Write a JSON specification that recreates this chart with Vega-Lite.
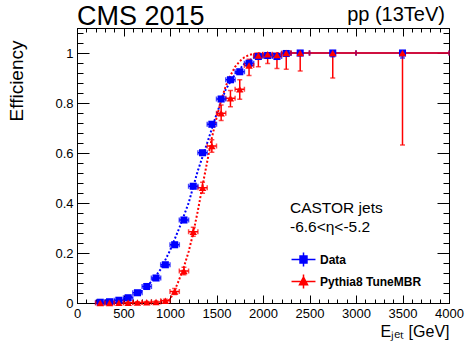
{
  "$schema": "https://vega.github.io/schema/vega-lite/v6.json",
  "width": 372,
  "height": 275,
  "autosize": {"type": "none"},
  "padding": {"left": 77, "top": 28, "right": 24, "bottom": 41},
  "background": "white",
  "config": {
    "font": "Liberation Sans",
    "view": {"stroke": "black", "strokeWidth": 1},
    "axis": {"grid": false, "domain": false, "labelFont": "Liberation Sans", "titleFont": "Liberation Sans", "tickColor": "black", "labelColor": "black", "titleColor": "black", "titleFontWeight": "normal", "tickWidth": 1},
    "legend": {"orient": "none", "legendX": 215, "legendY": 220, "title": null, "symbolSize": 441, "labelFont": "Liberation Sans", "labelFontSize": 12, "labelFontWeight": "bold", "labelColor": "black", "labelOffset": 5, "rowPadding": 0, "padding": 0, "symbolStrokeWidth": 1.5, "symbolOpacity": 1}
  },
  "datasets": {
    "pts": [
      {"s": "Data", "E": 250, "eff": 0.003, "lo": 0, "hi": 0.008, "Elo": 200, "Ehi": 300},
      {"s": "Data", "E": 350, "eff": 0.005, "lo": 0, "hi": 0.011, "Elo": 300, "Ehi": 400},
      {"s": "Data", "E": 450, "eff": 0.011, "lo": 0.005, "hi": 0.017, "Elo": 400, "Ehi": 500},
      {"s": "Data", "E": 550, "eff": 0.021, "lo": 0.015, "hi": 0.027, "Elo": 500, "Ehi": 600},
      {"s": "Data", "E": 650, "eff": 0.041, "lo": 0.035, "hi": 0.047, "Elo": 600, "Ehi": 700},
      {"s": "Data", "E": 750, "eff": 0.066, "lo": 0.06, "hi": 0.072, "Elo": 700, "Ehi": 800},
      {"s": "Data", "E": 850, "eff": 0.1, "lo": 0.094, "hi": 0.106, "Elo": 800, "Ehi": 900},
      {"s": "Data", "E": 950, "eff": 0.153, "lo": 0.147, "hi": 0.159, "Elo": 900, "Ehi": 1000},
      {"s": "Data", "E": 1050, "eff": 0.233, "lo": 0.226, "hi": 0.24, "Elo": 1000, "Ehi": 1100},
      {"s": "Data", "E": 1150, "eff": 0.332, "lo": 0.325, "hi": 0.339, "Elo": 1100, "Ehi": 1200},
      {"s": "Data", "E": 1250, "eff": 0.467, "lo": 0.46, "hi": 0.474, "Elo": 1200, "Ehi": 1300},
      {"s": "Data", "E": 1350, "eff": 0.601, "lo": 0.594, "hi": 0.608, "Elo": 1300, "Ehi": 1400},
      {"s": "Data", "E": 1450, "eff": 0.715, "lo": 0.708, "hi": 0.722, "Elo": 1400, "Ehi": 1500},
      {"s": "Data", "E": 1550, "eff": 0.816, "lo": 0.81, "hi": 0.822, "Elo": 1500, "Ehi": 1600},
      {"s": "Data", "E": 1650, "eff": 0.893, "lo": 0.887, "hi": 0.899, "Elo": 1600, "Ehi": 1700},
      {"s": "Data", "E": 1750, "eff": 0.925, "lo": 0.919, "hi": 0.931, "Elo": 1700, "Ehi": 1800},
      {"s": "Data", "E": 1850, "eff": 0.959, "lo": 0.953, "hi": 0.965, "Elo": 1800, "Ehi": 1900},
      {"s": "Data", "E": 1950, "eff": 0.986, "lo": 0.98, "hi": 0.991, "Elo": 1900, "Ehi": 2000},
      {"s": "Data", "E": 2050, "eff": 0.99, "lo": 0.984, "hi": 0.995, "Elo": 2000, "Ehi": 2100},
      {"s": "Data", "E": 2150, "eff": 0.986, "lo": 0.979, "hi": 0.992, "Elo": 2100, "Ehi": 2200},
      {"s": "Data", "E": 2250, "eff": 0.998, "lo": 0.99, "hi": 1, "Elo": 2200, "Ehi": 2300},
      {"s": "Data", "E": 2400, "eff": 1, "lo": 0.99, "hi": 1, "Elo": 2300, "Ehi": 2500},
      {"s": "Data", "E": 2750, "eff": 1, "lo": 0.985, "hi": 1, "Elo": 2500, "Ehi": 3000},
      {"s": "Data", "E": 3500, "eff": 1, "lo": 0.98, "hi": 1, "Elo": 3000, "Ehi": 4000},
      {"s": "Pythia8 TuneMBR", "E": 250, "eff": 0, "lo": 0, "hi": 0.003, "Elo": 200, "Ehi": 300},
      {"s": "Pythia8 TuneMBR", "E": 350, "eff": 0, "lo": 0, "hi": 0.003, "Elo": 300, "Ehi": 400},
      {"s": "Pythia8 TuneMBR", "E": 450, "eff": 0.001, "lo": 0, "hi": 0.004, "Elo": 400, "Ehi": 500},
      {"s": "Pythia8 TuneMBR", "E": 550, "eff": 0.001, "lo": 0, "hi": 0.004, "Elo": 500, "Ehi": 600},
      {"s": "Pythia8 TuneMBR", "E": 650, "eff": 0.002, "lo": 0, "hi": 0.005, "Elo": 600, "Ehi": 700},
      {"s": "Pythia8 TuneMBR", "E": 750, "eff": 0.003, "lo": 0, "hi": 0.006, "Elo": 700, "Ehi": 800},
      {"s": "Pythia8 TuneMBR", "E": 850, "eff": 0.004, "lo": 0.001, "hi": 0.008, "Elo": 800, "Ehi": 900},
      {"s": "Pythia8 TuneMBR", "E": 950, "eff": 0.009, "lo": 0.004, "hi": 0.015, "Elo": 900, "Ehi": 1000},
      {"s": "Pythia8 TuneMBR", "E": 1050, "eff": 0.046, "lo": 0.034, "hi": 0.058, "Elo": 1000, "Ehi": 1100},
      {"s": "Pythia8 TuneMBR", "E": 1150, "eff": 0.128, "lo": 0.113, "hi": 0.143, "Elo": 1100, "Ehi": 1200},
      {"s": "Pythia8 TuneMBR", "E": 1250, "eff": 0.285, "lo": 0.267, "hi": 0.303, "Elo": 1200, "Ehi": 1300},
      {"s": "Pythia8 TuneMBR", "E": 1350, "eff": 0.461, "lo": 0.439, "hi": 0.483, "Elo": 1300, "Ehi": 1400},
      {"s": "Pythia8 TuneMBR", "E": 1450, "eff": 0.628, "lo": 0.603, "hi": 0.653, "Elo": 1400, "Ehi": 1500},
      {"s": "Pythia8 TuneMBR", "E": 1550, "eff": 0.759, "lo": 0.73, "hi": 0.792, "Elo": 1500, "Ehi": 1600},
      {"s": "Pythia8 TuneMBR", "E": 1650, "eff": 0.819, "lo": 0.785, "hi": 0.85, "Elo": 1600, "Ehi": 1700},
      {"s": "Pythia8 TuneMBR", "E": 1750, "eff": 0.855, "lo": 0.815, "hi": 0.893, "Elo": 1700, "Ehi": 1800},
      {"s": "Pythia8 TuneMBR", "E": 1850, "eff": 0.95, "lo": 0.91, "hi": 0.975, "Elo": 1800, "Ehi": 1900},
      {"s": "Pythia8 TuneMBR", "E": 1950, "eff": 0.99, "lo": 0.945, "hi": 1, "Elo": 1900, "Ehi": 2000},
      {"s": "Pythia8 TuneMBR", "E": 2050, "eff": 0.995, "lo": 0.958, "hi": 1, "Elo": 2000, "Ehi": 2100},
      {"s": "Pythia8 TuneMBR", "E": 2150, "eff": 0.992, "lo": 0.938, "hi": 1, "Elo": 2100, "Ehi": 2200},
      {"s": "Pythia8 TuneMBR", "E": 2250, "eff": 1, "lo": 0.935, "hi": 1, "Elo": 2200, "Ehi": 2300},
      {"s": "Pythia8 TuneMBR", "E": 2400, "eff": 1, "lo": 0.928, "hi": 1, "Elo": 2300, "Ehi": 2500},
      {"s": "Pythia8 TuneMBR", "E": 2750, "eff": 1, "lo": 0.9, "hi": 1, "Elo": 2500, "Ehi": 3000},
      {"s": "Pythia8 TuneMBR", "E": 3500, "eff": 1, "lo": 0.632, "hi": 1, "Elo": 3000, "Ehi": 4000}
    ],
    "fit": [
      {"s": "Data", "E": 450, "eff": 0.007},
      {"s": "Data", "E": 500, "eff": 0.012},
      {"s": "Data", "E": 600, "eff": 0.028},
      {"s": "Data", "E": 700, "eff": 0.05},
      {"s": "Data", "E": 800, "eff": 0.085},
      {"s": "Data", "E": 900, "eff": 0.135},
      {"s": "Data", "E": 1000, "eff": 0.21},
      {"s": "Data", "E": 1100, "eff": 0.3},
      {"s": "Data", "E": 1200, "eff": 0.4},
      {"s": "Data", "E": 1300, "eff": 0.53},
      {"s": "Data", "E": 1400, "eff": 0.64},
      {"s": "Data", "E": 1500, "eff": 0.755},
      {"s": "Data", "E": 1600, "eff": 0.855},
      {"s": "Data", "E": 1700, "eff": 0.915},
      {"s": "Data", "E": 1800, "eff": 0.957},
      {"s": "Data", "E": 1900, "eff": 0.981},
      {"s": "Data", "E": 2000, "eff": 0.993},
      {"s": "Data", "E": 2100, "eff": 0.998},
      {"s": "Data", "E": 2200, "eff": 1},
      {"s": "Pythia8 TuneMBR", "E": 950, "eff": 0.0},
      {"s": "Pythia8 TuneMBR", "E": 1000, "eff": 0.015},
      {"s": "Pythia8 TuneMBR", "E": 1050, "eff": 0.05},
      {"s": "Pythia8 TuneMBR", "E": 1100, "eff": 0.095},
      {"s": "Pythia8 TuneMBR", "E": 1150, "eff": 0.145},
      {"s": "Pythia8 TuneMBR", "E": 1200, "eff": 0.205},
      {"s": "Pythia8 TuneMBR", "E": 1250, "eff": 0.28},
      {"s": "Pythia8 TuneMBR", "E": 1300, "eff": 0.37},
      {"s": "Pythia8 TuneMBR", "E": 1350, "eff": 0.47},
      {"s": "Pythia8 TuneMBR", "E": 1400, "eff": 0.565},
      {"s": "Pythia8 TuneMBR", "E": 1450, "eff": 0.66},
      {"s": "Pythia8 TuneMBR", "E": 1500, "eff": 0.74},
      {"s": "Pythia8 TuneMBR", "E": 1550, "eff": 0.81},
      {"s": "Pythia8 TuneMBR", "E": 1600, "eff": 0.868},
      {"s": "Pythia8 TuneMBR", "E": 1650, "eff": 0.91},
      {"s": "Pythia8 TuneMBR", "E": 1700, "eff": 0.945},
      {"s": "Pythia8 TuneMBR", "E": 1750, "eff": 0.967},
      {"s": "Pythia8 TuneMBR", "E": 1800, "eff": 0.983},
      {"s": "Pythia8 TuneMBR", "E": 1850, "eff": 0.992},
      {"s": "Pythia8 TuneMBR", "E": 1900, "eff": 0.997},
      {"s": "Pythia8 TuneMBR", "E": 2000, "eff": 1}
    ]
  },
  "resolve": {"axis": {"x": "independent", "y": "independent"}},
  "layer": [
    {
      "data": {"name": "fit"},
      "mark": {"type": "line", "strokeDash": [2, 2], "strokeWidth": 2},
      "encoding": {
        "x": {"field": "E", "type": "quantitative", "scale": {"domain": [0, 4000], "nice": false, "zero": false},
          "axis": {"orient": "bottom", "values": [0, 500, 1000, 1500, 2000, 2500, 3000, 3500, 4000], "format": "d", "ticks": false, "domain": true, "domainColor": "black", "labelFontSize": 13, "labelPadding": 4, "labelFlush": false, "labelOverlap": false, "title": "Eⱼₑₜ  [GeV]", "titleFontSize": 16, "titleAnchor": "end", "titlePadding": 3}},
        "y": {"field": "eff", "type": "quantitative", "scale": {"domain": [0, 1.1], "nice": false, "zero": false},
          "axis": {"orient": "left", "values": [0, 0.2, 0.4, 0.6, 0.8, 1], "ticks": false, "domain": true, "domainColor": "black", "labelFontSize": 13, "labelPadding": 4, "format": "~g", "labelFlush": false, "labelOverlap": false, "title": "Efficiency", "titleFontSize": 19, "titleAnchor": "end", "titleX": -51, "titleY": 12}},
        "color": {"field": "s", "type": "nominal", "scale": {"domain": ["Pythia8 TuneMBR", "Data"], "range": ["#ff0000", "#0000ff"]}, "legend": null}
      }
    },
    {
      "data": {"name": "pts"},
      "mark": {"type": "rule", "strokeWidth": 1.5},
      "encoding": {
        "x": {"field": "E", "type": "quantitative", "axis": {"orient": "bottom", "values": [0, 500, 1000, 1500, 2000, 2500, 3000, 3500, 4000], "labels": false, "tickSize": -8, "title": null}},
        "y": {"field": "lo", "type": "quantitative", "axis": {"orient": "left", "values": [0, 0.2, 0.4, 0.6, 0.8, 1], "labels": false, "tickSize": -12, "title": null}},
        "y2": {"field": "hi"},
        "color": {"field": "s", "type": "nominal", "legend": null}
      }
    },
    {
      "data": {"name": "pts"},
      "mark": {"type": "rule", "strokeWidth": 1.5},
      "encoding": {
        "x": {"field": "Elo", "type": "quantitative", "axis": {"orient": "bottom", "values": [0,100,200,300,400,500,600,700,800,900,1000,1100,1200,1300,1400,1500,1600,1700,1800,1900,2000,2100,2200,2300,2400,2500,2600,2700,2800,2900,3000,3100,3200,3300,3400,3500,3600,3700,3800,3900,4000], "labels": false, "tickSize": -4, "title": null}},
        "x2": {"field": "Ehi"},
        "y": {"field": "eff", "type": "quantitative", "axis": {"orient": "left", "values": [0,0.04,0.08,0.12,0.16,0.2,0.24,0.28,0.32,0.36,0.4,0.44,0.48,0.52,0.56,0.6,0.64,0.68,0.72,0.76,0.8,0.84,0.88,0.92,0.96,1,1.04,1.08], "labels": false, "tickSize": -6, "title": null}},
        "color": {"field": "s", "type": "nominal", "legend": null}
      }
    },
    {
      "data": {"name": "pts"},
      "mark": {"type": "tick", "orient": "horizontal", "size": 5, "thickness": 1.5},
      "encoding": {
        "x": {"field": "E", "type": "quantitative", "axis": {"orient": "top", "values": [0, 500, 1000, 1500, 2000, 2500, 3000, 3500, 4000], "labels": false, "tickSize": -8, "title": null}},
        "y": {"field": "lo", "type": "quantitative", "axis": {"orient": "right", "values": [0, 0.2, 0.4, 0.6, 0.8, 1], "labels": false, "tickSize": -12, "title": null}},
        "color": {"field": "s", "type": "nominal", "legend": null}
      }
    },
    {
      "data": {"name": "pts"},
      "mark": {"type": "tick", "orient": "horizontal", "size": 5, "thickness": 1.5},
      "encoding": {
        "x": {"field": "E", "type": "quantitative", "axis": {"orient": "top", "values": [0,100,200,300,400,500,600,700,800,900,1000,1100,1200,1300,1400,1500,1600,1700,1800,1900,2000,2100,2200,2300,2400,2500,2600,2700,2800,2900,3000,3100,3200,3300,3400,3500,3600,3700,3800,3900,4000], "labels": false, "tickSize": -4, "title": null}},
        "y": {"field": "hi", "type": "quantitative", "axis": {"orient": "right", "values": [0,0.04,0.08,0.12,0.16,0.2,0.24,0.28,0.32,0.36,0.4,0.44,0.48,0.52,0.56,0.6,0.64,0.68,0.72,0.76,0.8,0.84,0.88,0.92,0.96,1,1.04,1.08], "labels": false, "tickSize": -6, "title": null}},
        "color": {"field": "s", "type": "nominal", "legend": null}
      }
    },
    {
      "data": {"name": "pts"},
      "mark": {"type": "tick", "orient": "vertical", "size": 5, "thickness": 1.5},
      "encoding": {
        "x": {"field": "Elo", "type": "quantitative", "axis": null},
        "y": {"field": "eff", "type": "quantitative", "axis": null},
        "color": {"field": "s", "type": "nominal", "legend": null}
      }
    },
    {
      "data": {"name": "pts"},
      "mark": {"type": "tick", "orient": "vertical", "size": 5, "thickness": 1.5},
      "encoding": {
        "x": {"field": "Ehi", "type": "quantitative", "axis": null},
        "y": {"field": "eff", "type": "quantitative", "axis": null},
        "color": {"field": "s", "type": "nominal", "legend": null}
      }
    },
    {
      "data": {"name": "pts"},
      "transform": [{"filter": "datum.s === 'Data'"}],
      "mark": {"type": "point", "filled": true, "shape": "square", "size": 50, "opacity": 1},
      "encoding": {
        "x": {"field": "E", "type": "quantitative", "axis": null},
        "y": {"field": "eff", "type": "quantitative", "axis": null},
        "color": {"field": "s", "type": "nominal", "legend": null}
      }
    },
    {
      "data": {"name": "pts"},
      "transform": [{"filter": "datum.s !== 'Data'"}],
      "mark": {"type": "point", "filled": true, "shape": "triangle-up", "size": 55, "opacity": 1},
      "encoding": {
        "x": {"field": "E", "type": "quantitative", "axis": null},
        "y": {"field": "eff", "type": "quantitative", "axis": null},
        "color": {"field": "s", "type": "nominal", "legend": null}
      }
    },
    {
      "data": {"name": "pts"},
      "mark": {"type": "point", "opacity": 0, "strokeWidth": 1.5},
      "encoding": {
        "x": {"field": "E", "type": "quantitative", "axis": null},
        "y": {"field": "eff", "type": "quantitative", "axis": null},
        "fill": {"field": "s", "type": "nominal", "scale": {"domain": ["Data", "Pythia8 TuneMBR"], "range": ["#0000ff", "#ff0000"]}, "legend": {}},
        "stroke": {"field": "s", "type": "nominal", "scale": {"domain": ["Data", "Pythia8 TuneMBR"], "range": ["#0000ff", "#ff0000"]}, "legend": {}},
        "shape": {"field": "s", "type": "nominal", "scale": {"domain": ["Data", "Pythia8 TuneMBR"], "range": ["M-1.14,0H1.14M0,-0.67V0.67M-0.33,-0.33H0.33V0.33H-0.33Z", "M-1.14,0H1.14M0,-0.67V0.67M0,-0.42L0.38,0.3H-0.38Z"]}, "legend": {}}
      }
    },
    {
      "data": {"values": [{}]},
      "mark": {"type": "text", "align": "left", "baseline": "alphabetic", "fontSize": 15.5, "font": "Liberation Sans", "lineHeight": 19, "color": "black"},
      "encoding": {
        "x": {"datum": 2290, "type": "quantitative", "axis": null},
        "y": {"datum": 0.36, "type": "quantitative", "axis": null},
        "text": {"value": ["CASTOR jets", "-6.6<η<-5.2"]}
      }
    },
    {
      "data": {"values": [{}]},
      "mark": {"type": "text", "align": "right", "baseline": "alphabetic", "fontSize": 20, "font": "Liberation Sans", "color": "black", "dx": -4, "dy": -7},
      "encoding": {
        "x": {"datum": 4000, "type": "quantitative", "axis": null},
        "y": {"datum": 1.1, "type": "quantitative", "axis": null},
        "text": {"value": "pp (13TeV)"}
      }
    },
    {
      "data": {"values": [{}]},
      "mark": {"type": "text", "align": "left", "baseline": "alphabetic", "fontSize": 27, "font": "Liberation Sans", "color": "black", "dy": -3.5},
      "encoding": {
        "x": {"datum": 0, "type": "quantitative", "axis": null},
        "y": {"datum": 1.1, "type": "quantitative", "axis": null},
        "text": {"value": "CMS 2015"}
      }
    }
  ]
}
